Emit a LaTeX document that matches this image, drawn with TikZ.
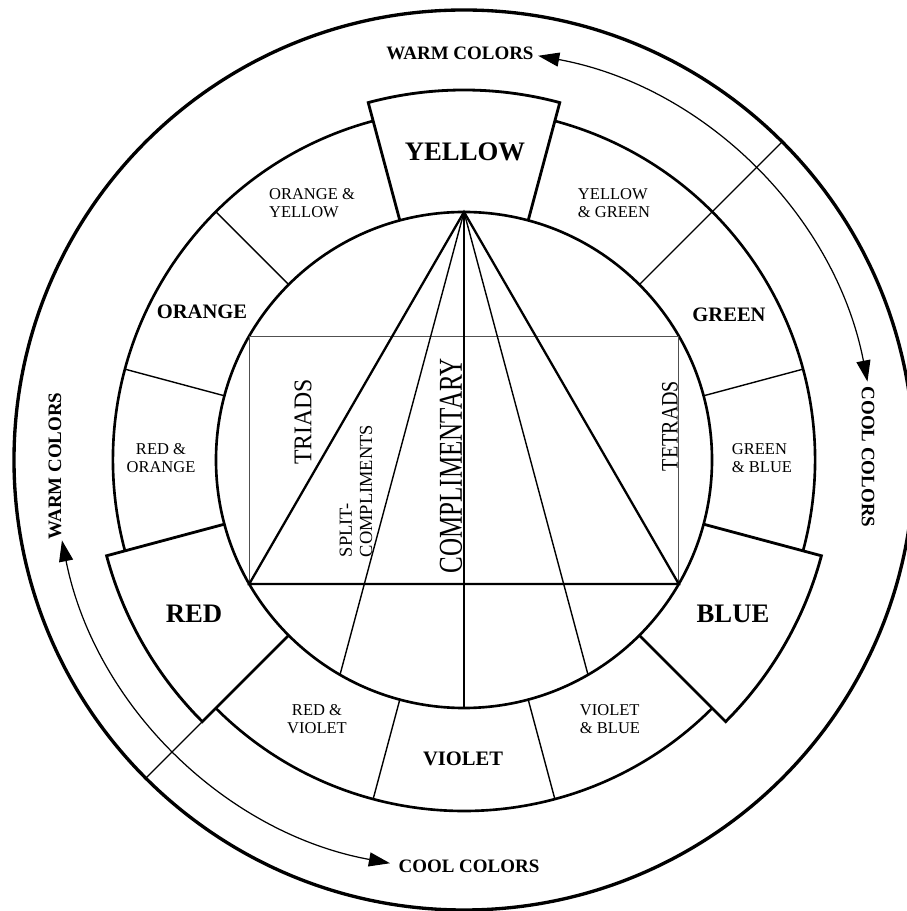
\documentclass[tikz,border=0pt]{standalone}
\usepackage{fontspec}
\setmainfont{Liberation Serif}
\usepackage{graphicx}
\usepackage{tikz}
\usetikzlibrary{arrows.meta}
\definecolor{ink}    {HTML}{000000}
\definecolor{softink}{HTML}{505050}
\tikzset{
  every node/.style={text=ink, inner sep=0pt},
  % --- labels
  prim/.style   = {font=\fontsize{15.2}{18}\selectfont\bfseries},
  hue/.style    = {font=\fontsize{11.7}{14}\selectfont\bfseries},
  mix/.style    = {font=\fontsize{9.4}{10.4}\selectfont, align=left},
  temp/.style   = {font=\fontsize{10.8}{13}\selectfont\bfseries},
  scheme/.style = {rotate=90},
  % --- lines
  outerline/.style = {draw=ink, line width=1.9pt},
  ringline/.style  = {draw=ink, line width=1.5pt},
  primline/.style  = {draw=ink, line width=1.6pt, line join=miter},
  segline/.style   = {draw=ink, line width=0.8pt},
  triline/.style   = {draw=ink, line width=1.3pt, line join=miter},
  compline/.style  = {draw=ink, line width=1.4pt},
  splitline/.style = {draw=ink, line width=0.8pt},
  tetline/.style   = {draw=softink, line width=0.5pt},
  arrowarc/.style  = {draw=ink, line width=0.7pt,
                      >={Triangle[length=12pt,width=8pt]}, <->},
}

\begin{document}
\begin{tikzpicture}[scale=0.2]
  \useasboundingbox (-46.4,-45.1) rectangle (44.2,46.0);

  % wheel
  \draw[outerline] (0,0) circle[radius=45];
  \draw[ringline] (0,0) circle[radius=24.8];
  \foreach \a in {-15,105,225}
    \draw[ringline] (\a:35.1) arc[start angle=\a, end angle=\a+90, radius=35.1];
  \foreach \a in {15,135,165,255,285}
    \draw[segline] (\a:24.8) -- (\a:35.1);
  \draw[segline] (45:24.8) -- (45:45);
  \draw[segline] (225:37) -- (225:45);
  \foreach \a in {90,210,330}
    \draw[primline] (\a-15:24.8) -- (\a-15:37)
      arc[start angle=\a-15, end angle=\a+15, radius=37] -- (\a+15:24.8);

  % schemes
  \coordinate (apex)  at (90:24.8);
  \coordinate (triL)  at (210:24.8);
  \coordinate (triR)  at (330:24.8);
  \coordinate (tetTL) at (150:24.8);
  \coordinate (tetTR) at (30:24.8);
  \coordinate (splL)  at (240:24.8);
  \coordinate (splR)  at (300:24.8);
  \coordinate (comp)  at (270:24.8);
  \draw[tetline] (triL) -- (tetTL) -- (tetTR) -- (triR);
  \draw[triline] (apex) -- (triL) -- (triR) -- cycle;
  \draw[splitline] (apex) -- (splL) (apex) -- (splR);
  \draw[compline] (apex) -- (comp);

  % warm / cool arrows
  \coordinate (warmTop)  at (79.6:41.1);
  \coordinate (warmLeft) at (191.3:41.0);
  \draw[arrowarc] (warmTop) arc[start angle=79.6, end angle=11, radius=41.1];
  \draw[arrowarc] (warmLeft) arc[start angle=191.3, end angle=259.6, radius=41.0];

  \node[prim] (yellow) at (0.1,30.8)   {YELLOW};
  \node[prim] (red)    at (-27.0,-15.4) {RED};
  \node[prim] (blue)   at (26.9,-15.4)  {BLUE};
  \node[hue] (orange)  at (-26.2,14.8) {ORANGE};
  \node[hue] (green)   at (26.5,14.5)  {GREEN};
  \node[hue] (violet)  at (-0.1,-29.9) {VIOLET};

  \node[mix] (orYe) at (-15.2,25.7) {ORANGE \&\\YELLOW};
  \node[mix] (yeGr) at (15.0,25.7)  {YELLOW\\\& GREEN};
  \node[mix, align=center] (reOr) at (-30.3,0.2) {RED \&\\ORANGE};
  \node[mix] (grBl) at (29.8,0.2)   {GREEN\\\& BLUE};
  \node[mix, align=center] (reVi) at (-14.7,-25.9) {RED \&\\VIOLET};
  \node[mix] (viBl) at (14.6,-25.9) {VIOLET\\\& BLUE};

  \node[temp] (warmT) at (-0.4,40.7) {WARM COLORS};
  \node[temp] (coolB) at (0.5,-40.6) {COOL COLORS};
  \node[temp, rotate=-90] (coolR) at (40.4,0.3) {COOL COLORS};
  \node[temp, rotate=90] (warmL) at (-40.9,-0.6) {WARM COLORS};

  \node[scheme, font=\fontsize{14.5}{16}\selectfont] (triads) at (-16.1,3.8)
    {\scalebox{0.93}[1]{TRIADS}};
  \node[scheme, font=\fontsize{10.5}{11.5}\selectfont, align=left] (split) at (-10.8,-3.1)
    {SPLIT-\\COMPLIMENTS};
  \node[scheme, font=\fontsize{19}{21}\selectfont] (complim) at (-1.3,-0.6)
    {\scalebox{0.75}[1]{COMPLIMENTARY}};
  \node[scheme, font=\fontsize{13.4}{15}\selectfont] (tetrads) at (20.6,3.4)
    {\scalebox{0.85}[1]{TETRADS}};
\end{tikzpicture}
\end{document}
